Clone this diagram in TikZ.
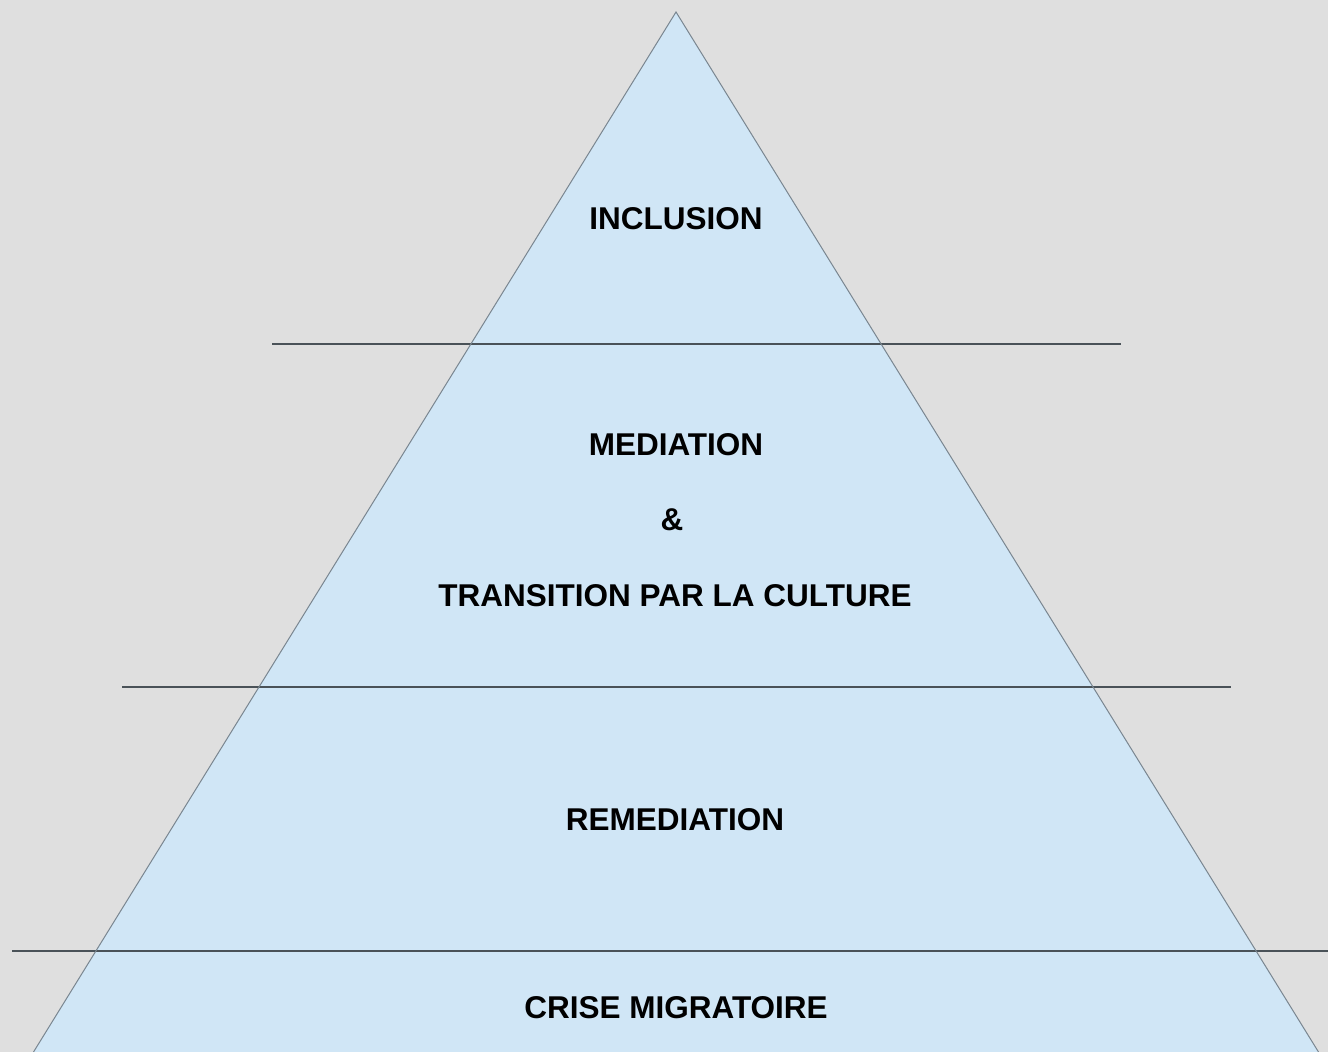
\documentclass[tikz,border=0pt]{standalone}
\usepackage{fontspec}
\setmainfont{Liberation Sans}
\definecolor{bg}{HTML}{DFDFDF}
\definecolor{pyr}{HTML}{D0E6F6}
\definecolor{edge}{HTML}{7A8690}
\definecolor{rule}{HTML}{4A5258}
\tikzset{
  lbl/.style={font=\fontsize{31.5}{36}\selectfont\bfseries, inner sep=0pt, text=black},
  sep/.style={draw=rule, line width=1.1pt},
}
\begin{document}
\begin{tikzpicture}[x=1pt,y=-1pt]
\fill[bg] (0,0) rectangle (1328,1052);
\useasboundingbox (0,0) rectangle (1328,1052);
\coordinate (apex) at (676,12);
\coordinate (bl) at (33.5,1052);
\coordinate (br) at (1318.5,1052);
\fill[pyr] (apex) -- (br) -- (bl) -- cycle;
\draw[sep] (272,344) -- (1121,344);
\draw[sep] (122,687) -- (1231,687);
\draw[sep] (12,951) -- (1328,951);
\draw[edge, line width=1pt] (bl) -- (apex) -- (br);
\node[lbl] (incl) at (676,218.5) {INCLUSION};
\node[lbl] (med) at (676,445) {MEDIATION};
\node[lbl] (amp) at (672,520) {\&};
\node[lbl] (trans) at (675,596) {TRANSITION PAR LA CULTURE};
\node[lbl] (rem) at (675,820) {REMEDIATION};
\node[lbl] (crise) at (676,1008) {CRISE MIGRATOIRE};
\end{tikzpicture}
\end{document}
